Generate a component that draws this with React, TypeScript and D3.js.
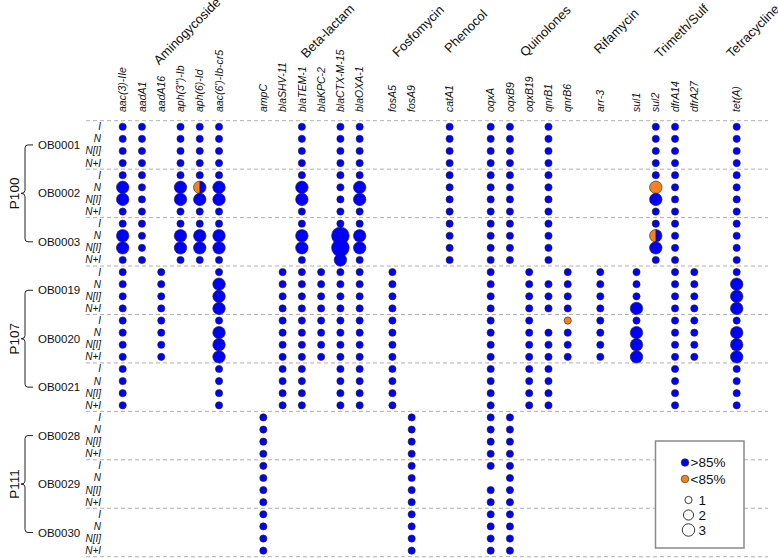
import React from "react";
import * as d3 from "d3";

// ---------------- DATA ----------------
const classNames = ["Aminogycoside", "Beta-lactam", "Fosfomycin", "Phenocol", "Quinolones", "Rifamycin", "Trimeth/Sulf", "Tetracycline"];
const classGenes = [
  ["aac(3)-IIe", "aadA1", "aadA16", "aph(3'')-Ib", "aph(6)-Id", "aac(6')-Ib-cr5"],
  ["ampC", "blaSHV-11", "blaTEM-1", "blaKPC-2", "blaCTX-M-15", "blaOXA-1"],
  ["fosA5", "fosA9"],
  ["catA1"],
  ["oqxA", "oqxB9", "oqxB19", "qnrB1", "qnrB6"],
  ["arr-3"],
  ["sul1", "sul2", "dfrA14", "dfrA27"],
  ["tet(A)"],
];
const patients = ["P100", "P107", "P111"];
const patientSamples = [
  ["OB0001", "OB0002", "OB0003"],
  ["OB0019", "OB0020", "OB0021"],
  ["OB0028", "OB0029", "OB0030"],
];
const conditions = ["I", "N", "N[I]", "N+I"];

// copies per condition [I, N, N[I], N+I]; 0 = not detected
const ob0001: [string, number[]][] = [
  ["aac(3)-IIe", [1, 1, 1, 1]], ["aadA1", [1, 1, 1, 1]], ["aph(3'')-Ib", [1, 1, 1, 1]], ["aph(6)-Id", [1, 1, 1, 1]],
  ["aac(6')-Ib-cr5", [1, 1, 1, 1]], ["blaTEM-1", [1, 1, 1, 1]], ["blaCTX-M-15", [1, 1, 1, 1]], ["blaOXA-1", [1, 1, 1, 1]],
  ["catA1", [1, 1, 1, 1]], ["oqxA", [1, 1, 1, 1]], ["oqxB9", [1, 1, 1, 1]], ["qnrB1", [1, 1, 1, 1]],
  ["sul2", [1, 1, 1, 1]], ["dfrA14", [1, 1, 1, 1]], ["tet(A)", [1, 1, 1, 1]],
];
const ob0002: [string, number[]][] = [
  ["aac(3)-IIe", [1, 3, 3, 1]], ["aadA1", [1, 1, 1, 1]], ["aph(3'')-Ib", [1, 3, 3, 1]], ["aph(6)-Id", [1, 3, 3, 1]],
  ["aac(6')-Ib-cr5", [1, 3, 3, 1]], ["blaTEM-1", [1, 3, 3, 1]], ["blaCTX-M-15", [1, 1, 1, 1]], ["blaOXA-1", [1, 3, 3, 1]],
  ["catA1", [1, 1, 1, 1]], ["oqxA", [1, 1, 1, 1]], ["oqxB9", [1, 1, 1, 1]], ["qnrB1", [1, 1, 1, 1]],
  ["sul2", [1, 3, 3, 1]], ["dfrA14", [1, 1, 1, 1]], ["tet(A)", [1, 1, 1, 1]],
];
const ob0003: [string, number[]][] = [
  ["aac(3)-IIe", [1, 3, 3, 1]], ["aadA1", [1, 1, 1, 1]], ["aph(3'')-Ib", [1, 3, 3, 1]], ["aph(6)-Id", [1, 3, 3, 1]],
  ["aac(6')-Ib-cr5", [1, 3, 3, 1]], ["blaTEM-1", [1, 3, 3, 1]], ["blaCTX-M-15", [1, 6, 6, 3]], ["blaOXA-1", [1, 3, 3, 1]],
  ["catA1", [1, 1, 1, 1]], ["oqxA", [1, 1, 1, 1]], ["oqxB9", [1, 1, 1, 1]], ["qnrB1", [1, 1, 1, 1]],
  ["sul2", [1, 3, 3, 1]], ["dfrA14", [1, 1, 1, 1]], ["tet(A)", [1, 1, 1, 1]],
];
const ob0019: [string, number[]][] = [
  ["aac(3)-IIe", [1, 1, 1, 1]], ["aadA16", [1, 1, 1, 1]], ["aac(6')-Ib-cr5", [1, 3, 3, 3]],
  ["blaSHV-11", [1, 1, 1, 1]], ["blaTEM-1", [1, 1, 1, 1]], ["blaKPC-2", [1, 1, 1, 1]], ["blaCTX-M-15", [1, 1, 1, 1]], ["blaOXA-1", [1, 1, 1, 1]],
  ["fosA5", [1, 1, 1, 1]], ["oqxA", [1, 1, 1, 1]], ["oqxB19", [1, 1, 1, 1]], ["qnrB1", [0, 1, 1, 1]], ["qnrB6", [1, 1, 1, 1]],
  ["arr-3", [1, 1, 1, 1]], ["sul1", [1, 1, 1, 3]], ["dfrA14", [1, 1, 1, 1]], ["dfrA27", [1, 1, 1, 1]], ["tet(A)", [1, 3, 3, 3]],
];
const ob0020: [string, number[]][] = [
  ["aac(3)-IIe", [1, 1, 1, 1]], ["aadA16", [1, 1, 1, 1]], ["aac(6')-Ib-cr5", [1, 3, 3, 3]],
  ["blaSHV-11", [1, 1, 1, 1]], ["blaTEM-1", [1, 1, 1, 1]], ["blaKPC-2", [1, 1, 1, 1]], ["blaCTX-M-15", [1, 1, 1, 1]], ["blaOXA-1", [1, 1, 1, 1]],
  ["fosA5", [1, 1, 1, 1]], ["oqxA", [1, 1, 1, 1]], ["oqxB19", [1, 1, 1, 1]], ["qnrB1", [0, 1, 1, 1]], ["qnrB6", [1, 1, 1, 1]],
  ["arr-3", [1, 1, 1, 1]], ["sul1", [1, 3, 3, 3]], ["dfrA14", [1, 1, 1, 1]], ["dfrA27", [1, 1, 1, 1]], ["tet(A)", [1, 3, 3, 3]],
];
const ob0021: [string, number[]][] = [
  ["aac(3)-IIe", [1, 1, 1, 1]], ["aac(6')-Ib-cr5", [1, 1, 1, 1]],
  ["blaSHV-11", [1, 1, 1, 1]], ["blaTEM-1", [1, 1, 1, 1]], ["blaCTX-M-15", [1, 1, 1, 1]], ["blaOXA-1", [1, 1, 1, 1]],
  ["fosA5", [1, 1, 1, 1]], ["oqxA", [1, 1, 1, 1]], ["oqxB19", [1, 1, 1, 1]], ["qnrB1", [1, 1, 1, 1]],
  ["dfrA14", [1, 1, 1, 1]], ["tet(A)", [1, 1, 1, 1]],
];
const ob0028: [string, number[]][] = [
  ["ampC", [1, 1, 1, 1]], ["fosA9", [1, 1, 1, 1]], ["oqxA", [1, 1, 1, 1]], ["oqxB9", [1, 1, 1, 1]],
];
const ob0029: [string, number[]][] = [
  ["ampC", [1, 1, 1, 1]], ["fosA9", [1, 1, 1, 1]], ["oqxA", [1, 0, 1, 1]], ["oqxB9", [1, 1, 1, 1]],
];
const ob0030: [string, number[]][] = [
  ["ampC", [1, 1, 1, 1]], ["fosA9", [1, 1, 1, 1]], ["oqxA", [1, 1, 1, 1]], ["oqxB9", [1, 1, 1, 1]],
];
const sampleTables = [ob0001, ob0002, ob0003, ob0019, ob0020, ob0021, ob0028, ob0029, ob0030];

// fraction of hits below 85% identity (orange)
const lowIdentity: [string, string, string, number][] = [
  ["OB0002", "aph(6)-Id", "N", 0.5],
  ["OB0002", "sul2", "N", 1],
  ["OB0003", "sul2", "N", 0.5],
  ["OB0020", "qnrB6", "I", 1],
];

const legendColors = [">85%", "<85%"];
const legendSizes = [1, 2, 3];

// ---------------- LAYOUT ----------------
const W = 778;
const H = 558;
const classGapUnits = [0, 2.3, 1.7, 1.97, 2.13, 1.69, 1.88, 2.2];
const BLUE = "#0000ff";
const ORANGE = "#f5821f";
const FONT = "'Liberation Sans', Arial, Helvetica, sans-serif";

export default function App() {
  const samples = patientSamples.flat();

  // gene slots (in gene-spacing units)
  const geneInfo: { gene: string; cls: number; slot: number }[] = [];
  let slot = -1;
  classGenes.forEach((gs, ci) => {
    gs.forEach((g, gi) => {
      slot += gi === 0 && ci > 0 ? classGapUnits[ci] : 1;
      geneInfo.push({ gene: g, cls: ci, slot });
    });
  });
  const slotOf = new Map(geneInfo.map((d) => [d.gene, d.slot]));
  const x = d3.scaleLinear().domain([0, slot]).range([122.7, 736.7]);

  const rowKeys = samples.flatMap((s) => conditions.map((c) => `${s}|${c}`));
  const y = d3.scaleBand().domain(rowKeys).range([120.7, 556.7]);
  const bw = y.bandwidth();
  const yc = (s: string, c: string) => (y(`${s}|${c}`) as number) + bw / 2;

  const r = d3.scaleSqrt().domain([0, 1]).range([0, 3.6]);
  const arc = d3.arc<any>().innerRadius(0);

  const lowMap = new Map(lowIdentity.map(([s, g, c, f]) => [`${s}|${g}|${c}`, f]));

  // dots in row order
  const dots: { key: string; cx: number; cy: number; v: number; f: number }[] = [];
  samples.forEach((s, si) => {
    const table = sampleTables[si];
    conditions.forEach((c, ci) => {
      table.forEach(([g, vals]) => {
        const v = vals[ci];
        if (!v) return;
        dots.push({
          key: `${s}|${g}|${c}`,
          cx: x(slotOf.get(g) as number),
          cy: yc(s, c),
          v,
          f: lowMap.get(`${s}|${g}|${c}`) ?? 0,
        });
      });
    });
  });

  const y0 = y.range()[0];
  const groupH = bw * conditions.length;
  const dashed = d3.range(samples.length + 1).map((k) => y0 + k * groupH);

  const sampleCenter = (s: string) => (y(`${s}|I`) as number) + groupH / 2;

  return (
    <svg width={W} height={H} style={{ position: "absolute", left: 0, top: 0, background: "#fff" }} fontFamily={FONT}>
      <rect width={W} height={H} fill="#fff" />
      {/* dashed separators */}
      {dashed.map((yy, i) => (
        <line key={i} x1={86} x2={768} y1={yy} y2={yy} stroke="#b0b0b0" strokeWidth={1} strokeDasharray="4,3" />
      ))}

      {/* class labels */}
      {classNames.map((cn, ci) => {
        const gs = geneInfo.filter((d) => d.cls === ci);
        const mid = (x(gs[0].slot) + x(gs[gs.length - 1].slot)) / 2;
        const ax = mid + 16;
        const ay = 31;
        return (
          <text key={cn} x={ax} y={ay} dy="0.35em" textAnchor="middle" transform={`rotate(-45,${ax},${ay})`} fontSize={13} fill="#111">
            {cn}
          </text>
        );
      })}

      {/* gene labels */}
      {geneInfo.map((d) => (
        <text
          key={d.gene}
          x={x(d.slot)}
          y={112}
          dy="0.35em"
          transform={`rotate(-90,${x(d.slot)},112)`}
          fontSize={10.5}
          fontStyle="italic"
          fill="#111"
        >
          {d.gene}
        </text>
      ))}

      {/* row labels */}
      {samples.map((s) =>
        conditions.map((c) => (
          <text key={`${s}|${c}`} x={101} y={yc(s, c)} dy="0.35em" textAnchor="end" fontSize={10} fontStyle="italic" fill="#111">
            {c}
          </text>
        ))
      )}

      {/* sample labels */}
      {samples.map((s) => (
        <text key={s} x={38} y={sampleCenter(s)} dy="0.35em" fontSize={11.5} fill="#111">
          {s}
        </text>
      ))}

      {/* patient brackets */}
      {patients.map((p, pi) => {
        const ss = patientSamples[pi];
        const top = sampleCenter(ss[0]);
        const bot = sampleCenter(ss[ss.length - 1]);
        const mid = (top + bot) / 2;
        const bx = 25;
        const path = `M33,${top} H${bx + 3} Q${bx},${top} ${bx},${top + 3} V${mid - 3} Q${bx},${mid} ${bx - 4},${mid} Q${bx},${mid} ${bx},${mid + 3} V${bot - 3} Q${bx},${bot} ${bx + 3},${bot} H33`;
        return (
          <g key={p}>
            <path d={path} fill="none" stroke="#222" strokeWidth={1} />
            <text x={14} y={mid} dy="0.35em" textAnchor="middle" transform={`rotate(-90,14,${mid})`} fontSize={13.5} fill="#111">
              {p}
            </text>
          </g>
        );
      })}

      {/* dots */}
      {dots.map((d) => {
        const rad = r(d.v);
        if (d.f <= 0 || d.f >= 1) {
          return <circle key={d.key} cx={d.cx} cy={d.cy} r={rad} fill={d.f >= 1 ? ORANGE : BLUE} stroke="#222" strokeWidth={0.6} />;
        }
        const split = (1 - d.f) * 2 * Math.PI;
        return (
          <g key={d.key} transform={`translate(${d.cx},${d.cy})`}>
            <path d={arc({ outerRadius: rad, startAngle: 0, endAngle: split }) as string} fill={BLUE} stroke="#222" strokeWidth={0.6} />
            <path d={arc({ outerRadius: rad, startAngle: split, endAngle: 2 * Math.PI }) as string} fill={ORANGE} stroke="#222" strokeWidth={0.6} />
          </g>
        );
      })}

      {/* legend */}
      <g>
        <rect x={655.5} y={441} width={88.5} height={107} fill="#fff" stroke="#8a8a8a" strokeWidth={1.5} />
        {legendColors.map((lab, i) => (
          <g key={lab}>
            <circle cx={685} cy={462.5 + i * 16.5} r={3.8} fill={i === 0 ? BLUE : ORANGE} stroke="#222" strokeWidth={0.6} />
            <text x={690.5} y={462.5 + i * 16.5} dy="0.36em" fontSize={13.5} fill="#111">
              {lab}
            </text>
          </g>
        ))}
        {legendSizes.map((v, i) => (
          <g key={v}>
            <circle cx={688.5} cy={500 + i * 15} r={r(v)} fill="#fff" stroke="#222" strokeWidth={0.9} />
            <text x={698.5} y={500 + i * 15} dy="0.36em" fontSize={13.5} fill="#111">
              {v}
            </text>
          </g>
        ))}
      </g>
    </svg>
  );
}
